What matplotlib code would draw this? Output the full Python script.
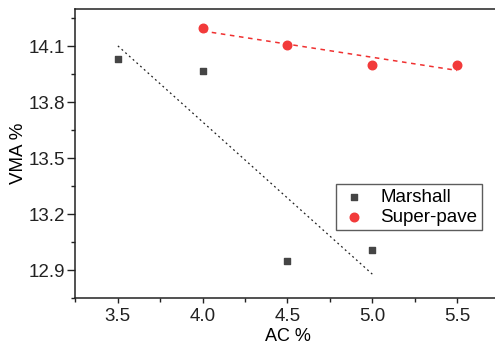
import numpy as np
import matplotlib
matplotlib.use("Agg")
import matplotlib.pyplot as plt
from matplotlib.ticker import MultipleLocator, FormatStrFormatter

plt.rcParams['font.family'] = ['Liberation Sans', 'DejaVu Sans']

# data
ac_marshall = [3.5, 4.0, 4.5, 5.0]
vma_marshall = [14.03, 13.97, 12.95, 13.01]
ac_superpave = [4.0, 4.5, 5.0, 5.5]
vma_superpave = [14.20, 14.105, 14.00, 14.00]

fig = plt.figure(figsize=(4.95, 3.47), dpi=100)
ax = fig.add_axes([0.1525, 0.1412, 0.8566, 0.8329])

# linear trend lines
m_fit = np.polyfit(ac_marshall, vma_marshall, 1)
s_fit = np.polyfit(ac_superpave, vma_superpave, 1)
xm = np.array([min(ac_marshall), max(ac_marshall)])
xs = np.array([min(ac_superpave), max(ac_superpave)])
ax.plot(xm, np.polyval(m_fit, xm), color='#222222', lw=0.9, ls=(0, (1.5, 2.5)), zorder=2)
ax.plot(xs, np.polyval(s_fit, xs), color='#f03030', lw=1.1, ls=(0, (3, 3)), zorder=2)

ax.scatter(ac_marshall, vma_marshall, marker='s', s=24, color='#454545', label='Marshall', zorder=3)
ax.scatter(ac_superpave, vma_superpave, marker='o', s=38, color='#f23a3a', label='Super-pave', zorder=3)

ax.set_xlim(3.25, 5.75)
ax.set_ylim(12.8, 14.3)
ax.xaxis.set_major_locator(MultipleLocator(0.5))
ax.xaxis.set_minor_locator(MultipleLocator(0.25))
ax.set_yticks([12.9, 13.2, 13.5, 13.8, 14.1])
ax.set_yticks([12.75, 13.05, 13.35, 13.65, 13.95, 14.25], minor=True)
ax.xaxis.set_major_formatter(FormatStrFormatter('%.1f'))
ax.yaxis.set_major_formatter(FormatStrFormatter('%.1f'))

ax.tick_params(axis='both', which='both', direction='out', labelsize=13.5, colors='#222222')
ax.tick_params(axis='y', which='major', length=5.5, width=1, pad=2)
ax.tick_params(axis='y', which='minor', length=3, width=1)
ax.tick_params(axis='x', which='major', length=3.5, width=1, pad=4)
ax.tick_params(axis='x', which='minor', length=3, width=1)
for sp in ax.spines.values():
    sp.set_linewidth(1.1)
    sp.set_color('#222222')

ax.set_xlabel('AC %', fontsize=13, labelpad=2)
ax.set_ylabel('VMA %', fontsize=13.5, labelpad=1)

leg = ax.legend(loc='upper left', bbox_to_anchor=(336 / 495, 1 - 184 / 347),
                bbox_transform=fig.transFigure, fontsize=13.5, frameon=True,
                fancybox=False, borderpad=0.25, handletextpad=0.7,
                labelspacing=0.15, handlelength=1.4, borderaxespad=0)
leg.get_frame().set_edgecolor('#333333')
leg.get_frame().set_linewidth(1.0)

fig.savefig('out.png', dpi=100)
